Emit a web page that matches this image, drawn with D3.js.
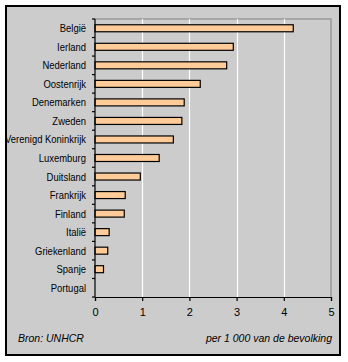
<!DOCTYPE html>
<html>
<head>
<meta charset="utf-8">
<script src="https://cdn.jsdelivr.net/npm/d3@7"></script>
<style>
  html, body { margin: 0; padding: 0; background: #ffffff; }
  svg { display: block; font-family: "Liberation Sans", Arial, sans-serif; }
</style>
</head>
<body>
<svg id="chart" width="348" height="362"></svg>
<script>
// Asylum seekers per 1 000 inhabitants, by country
const countries = ["België", "Ierland", "Nederland", "Oostenrijk", "Denemarken", "Zweden",
  "Verenigd Koninkrijk", "Luxemburg", "Duitsland", "Frankrijk", "Finland", "Italië",
  "Griekenland", "Spanje", "Portugal"];
const values = [4.2, 2.93, 2.79, 2.23, 1.89, 1.84, 1.66, 1.36, 0.96, 0.64, 0.62, 0.30, 0.27, 0.18, 0];
const xTicks = [0, 1, 2, 3, 4, 5];

const svg = d3.select("#chart");

// frame
svg.append("rect")
  .attr("x", 6).attr("y", 6).attr("width", 334).attr("height", 349)
  .attr("fill", "#cccccc").attr("stroke", "#000").attr("stroke-width", 2);

const plotLeft = 95, plotRight = 331, plotTop = 19, plotBottom = 297;

const x = d3.scaleLinear().domain([0, 5]).range([plotLeft, plotRight]);
const yb = d3.scaleBand().domain(countries).range([plotTop, plotBottom]);

// plot area border (top/right)
svg.append("path")
  .attr("d", `M${plotLeft},${plotTop}H${plotRight}V${plotBottom}`)
  .attr("fill", "none").attr("stroke", "#999").attr("stroke-width", 1.5);

// vertical gridlines
svg.append("g").selectAll("line")
  .data(xTicks.filter(d => d > 0 && d < 5))
  .join("line")
  .attr("x1", d => Math.round(x(d)) + 0.5).attr("x2", d => Math.round(x(d)) + 0.5)
  .attr("y1", plotTop).attr("y2", plotBottom)
  .attr("stroke", "#fff").attr("stroke-width", 1.2);

// bars
svg.append("g").selectAll("rect")
  .data(values.map((v, i) => ({ c: countries[i], v })).filter(d => d.v > 0))
  .join("rect")
  .attr("x", x(0))
  .attr("y", d => yb(d.c) + yb.bandwidth() / 2 - 3.5)
  .attr("width", d => x(d.v) - x(0))
  .attr("height", 7)
  .attr("fill", "#ffcc99")
  .attr("stroke", "#000").attr("stroke-width", 1.2);

// y axis with ticks on band boundaries
const yAxisG = svg.append("g");
yAxisG.append("line")
  .attr("x1", plotLeft).attr("x2", plotLeft).attr("y1", plotTop).attr("y2", plotBottom)
  .attr("stroke", "#000").attr("stroke-width", 1.2);
yAxisG.selectAll("line.tick")
  .data(countries.map(c => yb(c)).concat([plotBottom]))
  .join("line").attr("class", "tick")
  .attr("x1", plotLeft - 3).attr("x2", plotLeft).attr("y1", d => d).attr("y2", d => d)
  .attr("stroke", "#000").attr("stroke-width", 1.2);
// country names, slightly condensed horizontally
yAxisG.selectAll("text")
  .data(countries)
  .join("text")
  .attr("transform", d => `translate(${plotLeft - 9},${yb(d) + yb.bandwidth() / 2 + 4}) scale(0.86,1)`)
  .attr("text-anchor", "end")
  .attr("font-size", 11)
  .attr("fill", "#000")
  .text(d => d);

// x axis
const xAxis = d3.axisBottom(x).tickValues(xTicks).tickSize(4).tickPadding(7).tickFormat(d3.format("d"));
const xg = svg.append("g").attr("transform", `translate(0,${plotBottom})`).call(xAxis);
xg.select(".domain").attr("stroke", "#000").attr("stroke-width", 1.2);
xg.selectAll(".tick line").attr("stroke", "#000").attr("stroke-width", 1.2);
xg.selectAll(".tick text").attr("font-size", 11).attr("fill", "#000")
  .attr("font-family", "\"Liberation Sans\", Arial, sans-serif");

// footnotes
svg.append("text").attr("x", 18).attr("y", 342)
  .attr("font-size", 10.5).attr("font-style", "italic").text("Bron: UNHCR");
svg.append("text").attr("x", 332).attr("y", 342).attr("text-anchor", "end")
  .attr("font-size", 10.5).attr("font-style", "italic").text("per 1 000 van de bevolking");
</script>
</body>
</html>
